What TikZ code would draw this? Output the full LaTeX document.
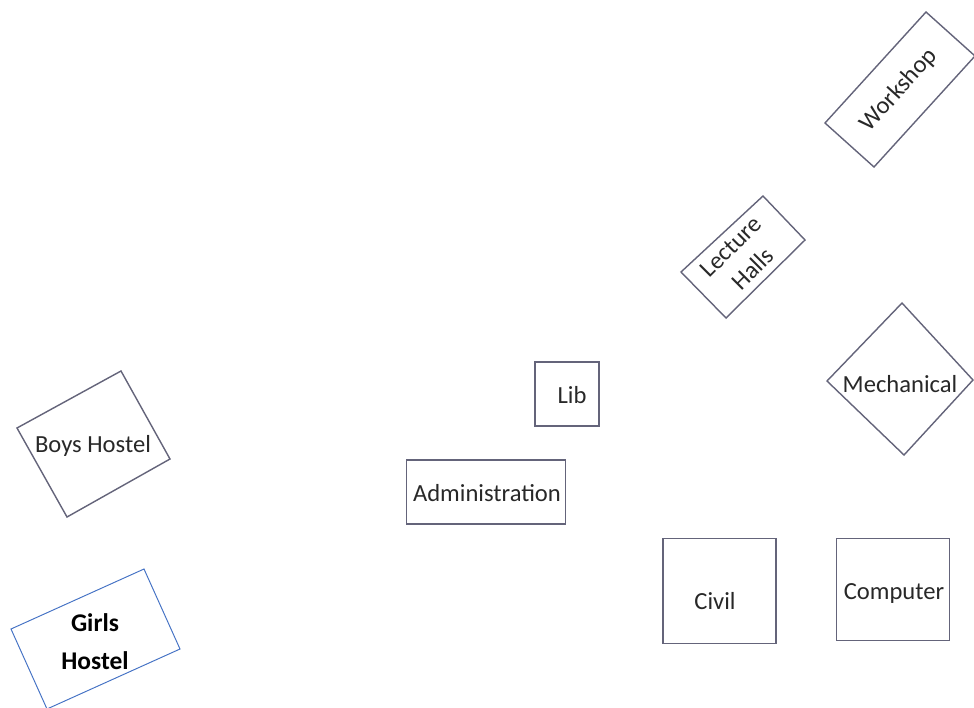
\documentclass[tikz,border=0pt]{standalone}
\usepackage{fontspec}
\setmainfont{Carlito}
\definecolor{boxgray}{RGB}{100,100,122}
\definecolor{txtgray}{RGB}{40,40,40}
\definecolor{boxblue}{RGB}{68,114,196}
\begin{document}
\begin{tikzpicture}[x=0.02cm,y=-0.02cm,
  building/.style={draw=boxgray,line width=0.8pt,line join=miter},
  bluebuilding/.style={draw=boxblue,line width=0.55pt},
  label/.style={text=txtgray,font=\fontsize{14}{18}\selectfont,inner sep=0pt,align=center},
  boldlabel/.style={text=black,font=\fontsize{14.5}{21.5}\selectfont\bfseries,inner sep=0pt,align=center}]
\useasboundingbox (0,0) rectangle (974,707);
\clip (0,0) rectangle (974,707);
% Boys Hostel
\coordinate (bh1) at (121,371);
\coordinate (bh2) at (17,428);
\coordinate (bh3) at (67,517);
\coordinate (bh4) at (170,459);
\draw[building] (bh1) -- (bh2) -- (bh3) -- (bh4) -- cycle;
\node[label] (boys) at (93,446) {Boys Hostel};
% Girls Hostel
\coordinate (gh1) at (144,569);
\coordinate (gh2) at (11,629);
\coordinate (gh3) at (47,709);
\coordinate (gh4) at (180,649);
\draw[bluebuilding] (gh1) -- (gh2) -- (gh3) -- (gh4) -- cycle;
\node[boldlabel] (girls) at (95,642) {Girls\\Hostel};
% Workshop
\coordinate (ws1) at (926,12);
\coordinate (ws2) at (825,123);
\coordinate (ws3) at (874,167);
\coordinate (ws4) at (975,56);
\draw[building] (ws1) -- (ws2) -- (ws3) -- (ws4) -- cycle;
\node[label,rotate=48] (workshop) at (899,90) {Workshop};
% Lecture Halls
\coordinate (lh1) at (763,196);
\coordinate (lh2) at (681,272);
\coordinate (lh3) at (726,318);
\coordinate (lh4) at (805,240);
\draw[building] (lh1) -- (lh2) -- (lh3) -- (lh4) -- cycle;
\node[label,rotate=45] (lecture) at (742,258) {Lecture\\Halls};
% Mechanical
\coordinate (me1) at (902,303);
\coordinate (me2) at (827,381);
\coordinate (me3) at (904,455);
\coordinate (me4) at (973,380);
\draw[building] (me1) -- (me2) -- (me3) -- (me4) -- cycle;
\node[label] (mech) at (900,384) {Mechanical};
% Lib
\node[building,minimum width=64*0.02cm,minimum height=64*0.02cm,inner sep=0pt] (libbox) at (567,394) {};
\node[label] (lib) at (572,395) {Lib};
% Administration
\node[building,minimum width=159*0.02cm,minimum height=64*0.02cm,inner sep=0pt] (admbox) at (486,492) {};
\node[label] (adm) at (487,493) {Administration};
% Civil
\node[building,minimum width=113*0.02cm,minimum height=105*0.02cm,inner sep=0pt] (civbox) at (719.5,591) {};
\node[label] (civ) at (715,601) {Civil};
% Computer
\node[building,minimum width=113*0.02cm,minimum height=102*0.02cm,inner sep=0pt] (compbox) at (893,589.5) {};
\node[label] (comp) at (894,593) {Computer};
\end{tikzpicture}
\end{document}
